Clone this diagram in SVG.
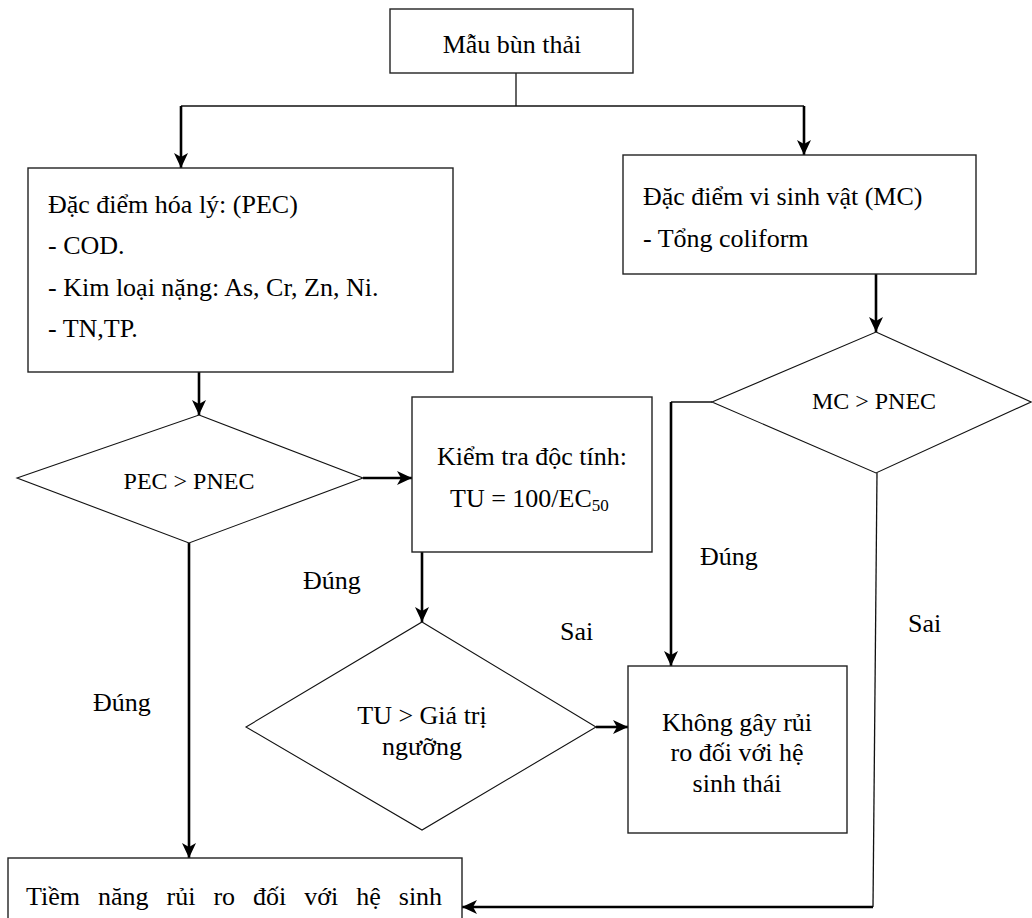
<svg xmlns="http://www.w3.org/2000/svg" width="1032" height="918" viewBox="0 0 1032 918">
<style>
  .box { fill: #fff; stroke: #222; stroke-width: 1.4; }
  .dia { fill: #fff; stroke: #111; stroke-width: 1.1; }
  .t { font-family: "Liberation Serif", "Times New Roman", serif; font-size: 26px; fill: #000; }
  .td { font-family: "Liberation Serif", "Times New Roman", serif; font-size: 24px; fill: #000; }
  .c { text-anchor: middle; }
  .thin { fill: none; stroke: #111; stroke-width: 1.3; }
  .arr { fill: none; stroke: #000; stroke-width: 2.6; marker-end: url(#ah); }
</style>
<defs>
  <marker id="ah" markerUnits="userSpaceOnUse" markerWidth="16" markerHeight="16" viewBox="0 0 16 16" refX="15" refY="8" orient="auto">
    <path d="M0,1 L15,8 L0,15 L4,8 z" fill="#000"/>
  </marker>
</defs>
<rect width="1032" height="918" fill="#fff"/>

<g id="connectors">
  <line class="thin" x1="516" y1="73" x2="516" y2="106"/>
  <line class="thin" x1="181" y1="106" x2="804" y2="106"/>
  <line class="arr" x1="181" y1="106" x2="181" y2="168"/>
  <line class="arr" x1="804" y1="106" x2="804" y2="155"/>
  <line class="arr" x1="199" y1="372" x2="199" y2="415"/>
  <line class="arr" x1="363" y1="478" x2="412" y2="478"/>
  <line class="arr" x1="189" y1="543" x2="189" y2="858"/>
  <line class="arr" x1="422" y1="552" x2="422" y2="622"/>
  <line class="arr" x1="596" y1="727" x2="628" y2="727"/>
  <line class="arr" x1="876" y1="274" x2="876" y2="332"/>
  <polyline class="thin" points="712,402 671,402"/>
  <line class="arr" x1="671" y1="402" x2="671" y2="666"/>
  <line class="thin" x1="877" y1="473" x2="873" y2="907"/>
  <line class="arr" x1="873" y1="907" x2="462" y2="907"/>
</g>

<g id="n_mau">
  <rect class="box" x="390" y="9" width="243" height="64"/>
  <text class="t c" x="512" y="53">Mẫu bùn thải</text>
</g>

<g id="n_hoaly">
  <rect class="box" x="28" y="168" width="425" height="204"/>
  <text class="t" x="48" y="213">Đặc điểm hóa lý: (PEC)</text>
  <text class="t" x="48" y="254">- COD.</text>
  <text class="t" x="48" y="296">- Kim loại nặng: As, Cr, Zn, Ni.</text>
  <text class="t" x="48" y="337">- TN,TP.</text>
</g>

<g id="n_visinh">
  <rect class="box" x="623" y="155" width="353" height="119"/>
  <text class="t" x="643" y="205">Đặc điểm vi sinh vật (MC)</text>
  <text class="t" x="643" y="247">- Tổng coliform</text>
</g>

<g id="n_pec">
  <polygon class="dia" points="199,415 363,478 189,543 17,478"/>
  <text class="td c" x="189" y="489">PEC &gt; PNEC</text>
</g>

<g id="n_kiemtra">
  <rect class="box" x="412" y="397" width="240" height="155"/>
  <text class="t c" x="532" y="465">Kiểm tra độc tính:</text>
  <text class="t" x="450" y="507">TU = 100/EC<tspan font-size="17" dy="4">50</tspan></text>
</g>

<g id="n_mc">
  <polygon class="dia" points="876,332 1031,402 876,473 712,402"/>
  <text class="td c" x="874" y="409">MC &gt; PNEC</text>
</g>

<g id="n_tu">
  <polygon class="dia" points="422,622 596,727 422,830 246,727"/>
  <text class="t c" x="422" y="724">TU &gt; Giá trị</text>
  <text class="t c" x="422" y="755">ngưỡng</text>
</g>

<g id="n_khong">
  <rect class="box" x="628" y="666" width="219" height="167"/>
  <text class="t c" x="737" y="731">Không gây rủi</text>
  <text class="t c" x="737" y="761">ro đối với hệ</text>
  <text class="t c" x="737" y="792">sinh thái</text>
</g>

<g id="n_tiemnang">
  <rect class="box" x="8" y="858" width="454" height="80"/>
  <text class="t" x="26" y="905" word-spacing="11.5">Tiềm năng rủi ro đối với hệ sinh</text>
</g>

<g id="labels">
  <text class="t" x="303" y="589">Đúng</text>
  <text class="t" x="93" y="711">Đúng</text>
  <text class="t" x="700" y="565">Đúng</text>
  <text class="t" x="560" y="640">Sai</text>
  <text class="t" x="908" y="632">Sai</text>
</g>
</svg>
